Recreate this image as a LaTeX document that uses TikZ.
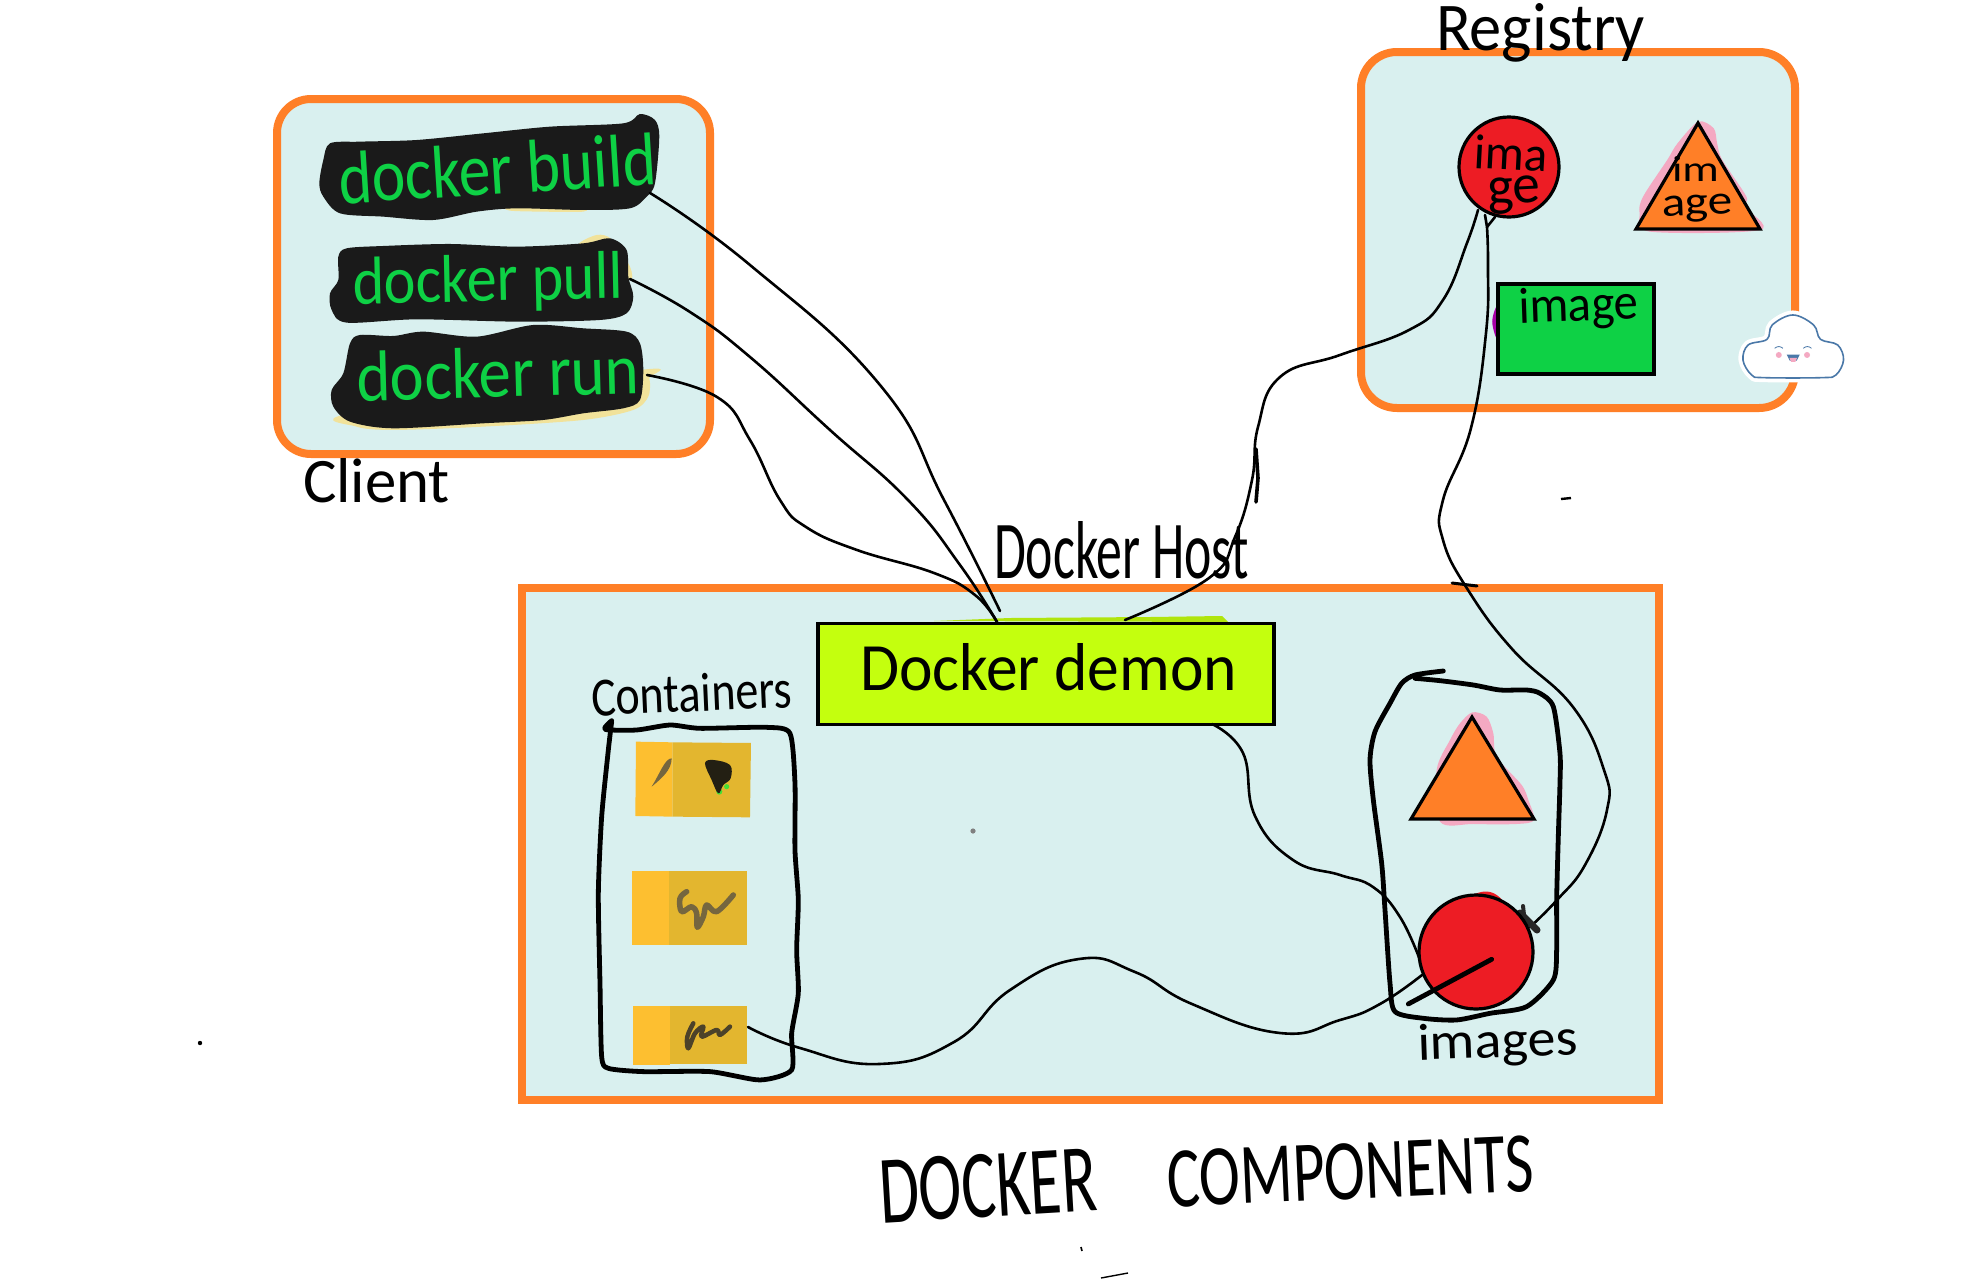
\documentclass[tikz,border=0pt]{standalone}
\usepackage{graphicx}
\usepackage{fontspec}
\setmainfont{Carlito}
\definecolor{orng}{HTML}{FF7F27}
\definecolor{pale}{HTML}{D9F0EF}
\definecolor{redd}{HTML}{ED1C24}
\definecolor{grn}{HTML}{0ED145}
\definecolor{lime}{HTML}{C4FF0E}
\definecolor{blob}{HTML}{1A1A1A}
\definecolor{pinkb}{HTML}{F4A9C2}
\definecolor{crm}{HTML}{F1E29A}
\definecolor{boxl}{HTML}{FDBF30}
\definecolor{boxr}{HTML}{E3B62F}
\definecolor{scrib}{HTML}{75663F}
\definecolor{cldb}{HTML}{4A78A8}
\newcommand{\hw}[3]{\resizebox{#1pt}{#2pt}{#3}}
\tikzset{
  panel/.style={draw=orng,fill=pale,line width=8pt,inner sep=0pt,outer sep=0pt},
  hand/.style={anchor=base west,inner sep=0pt,outer sep=0pt,text=black},
  handg/.style={hand,text=grn},
  wire/.style={draw=black,line width=2.6pt,line cap=round,line join=round},
  pen/.style={draw=black,line width=4.8pt,line cap=round,line join=round},
  shapeline/.style={draw=black,line width=3.2pt,line join=miter},
  za/.style={shift={(250,80)},x=0.3333pt,y=-0.3333pt},
  zb/.style={shift={(1340,0)},x=0.3444pt,y=-0.3333pt},
  zc/.style={shift={(560,650)},x=0.3333pt,y=-0.3333pt},
  zd/.style={shift={(1340,650)},x=0.3333pt,y=-0.3333pt},
}
\begin{document}
\begin{tikzpicture}[x=1pt,y=-1pt]
\useasboundingbox (0,0) rectangle (1968,1280);
\fill[white] (0,0) rectangle (1968,1280);
% panels
\node[panel,rounded corners=34pt,minimum width=433pt,minimum height=355pt] (client) at (493.5,276.5) {};
\node[panel,rounded corners=36pt,minimum width=434pt,minimum height=356pt] (registry) at (1578,230) {};
\node[panel,minimum width=1137pt,minimum height=512pt] (host) at (522,588) [anchor=north west] {};
% blobs behind client commands
\begin{scope}[za]
\fill[crm] plot[smooth cycle,tension=.5] coordinates {(770,380)(880,375)(1000,380)(1000,395)(880,395)(780,392)};
\fill[crm] plot[smooth cycle,tension=.5] coordinates {(985,495)(1040,465)(1085,478)(1140,560)(1140,600)(1060,520)};
\fill[crm] plot[smooth cycle,tension=.5] coordinates {(1170,870)(1198,895)(1195,950)(1150,990)(1000,1020)(700,1040)(430,1050)(320,1040)(300,1000)};
\fill[blob] plot[smooth cycle,tension=.5] coordinates {(240,190)(330,185)(500,180)(700,160)(900,140)(1120,130)(1170,102)(1215,120)(1228,170)(1215,310)(1190,350)(1140,385)(1000,390)(800,385)(680,395)(550,420)(400,410)(270,400)(220,350)(208,310)(220,240)};
\fill[blob] plot[smooth cycle,tension=.5] coordinates {(290,505)(400,498)(600,492)(800,500)(1000,490)(1080,475)(1130,510)(1135,590)(1150,650)(1130,700)(1050,720)(800,725)(500,718)(290,728)(245,690)(240,640)(265,600)(265,530)};
\fill[blob] plot[smooth cycle,tension=.5] coordinates {(330,765)(430,768)(520,755)(680,770)(850,735)(1000,745)(1130,755)(1170,790)(1180,870)(1170,960)(1120,985)(1000,1000)(880,1020)(700,1030)(430,1045)(300,1025)(250,980)(245,930)(280,880)(300,790)};
\end{scope}
% client texts
\node[handg,rotate=3.6] (tbuild) at (340,204) {\hw{318}{52}{docker build}};
\node[handg,rotate=1.2] (tpull) at (353,304) {\hw{270}{47}{docker pull}};
\node[handg,rotate=1.5] (trun) at (357,401) {\hw{283}{50}{docker run}};
\node[hand] (tclient) at (303,502) {\hw{147}{44}{Client}};
% registry contents
\begin{scope}[zb]
\fill[pinkb] plot[smooth cycle,tension=.5] coordinates {(1040,365)(1085,385)(1095,430)(1110,480)(1180,590)(1175,620)(1220,690)(900,695)(870,640)(880,590)(950,480)(980,430)};
\fill[violet!70!magenta] plot[smooth cycle,tension=.6] coordinates {(458,915)(442,965)(458,1020)(470,965)};
\end{scope}
\node[circle,draw=black,fill=redd,line width=3.2pt,minimum size=100pt,inner sep=0pt] (regcirc) at (1509,167) {};
\draw[shapeline,fill=orng] (1698,123) -- (1760,229) -- (1636,229) -- cycle;
\node[draw=black,fill=grn,line width=3.5pt,minimum width=156pt,minimum height=90pt,inner sep=0pt] (regrect) at (1576,329) {};
\node[hand,rotate=-3] (tima) at (1473,168) {\hw{74}{34}{ima}};
\node[hand,rotate=3] (tge) at (1488,205) {\hw{53}{27}{ge}};
\node[hand] (tim) at (1672,181) {\hw{47}{25}{im}};
\node[hand,rotate=2] (tage) at (1662,216) {\hw{71}{20}{age}};
\node[hand,rotate=2] (timage) at (1519,323) {\hw{120}{35}{image}};
% cloud
\begin{scope}[zb]
\path[draw=white,fill=white,line width=9pt,line join=round] plot[smooth cycle,tension=.6] coordinates {(1170,1080)(1185,1035)(1240,1018)(1255,975)(1315,945)(1375,975)(1395,1018)(1445,1035)(1462,1080)(1440,1125)(1400,1133)(1230,1133)(1195,1125)};
\path[draw=cldb,fill=white,line width=1.6pt,line join=round] plot[smooth cycle,tension=.6] coordinates {(1170,1080)(1185,1035)(1240,1018)(1255,975)(1315,945)(1375,975)(1395,1018)(1445,1035)(1462,1080)(1440,1125)(1400,1133)(1230,1133)(1195,1125)};
\draw[cldb,line width=.8pt] (1262,1045) .. controls (1270,1038) and (1278,1038) .. (1286,1045);
\draw[cldb,line width=.8pt] (1345,1045) .. controls (1353,1038) and (1361,1038) .. (1369,1045);
\fill[pinkb] (1274,1065) circle (3pt);
\fill[pinkb] (1356,1065) circle (3pt);
\fill[cldb] (1297,1064) -- (1335,1064) -- (1326,1082) -- (1306,1082) -- cycle;
\fill[pinkb] (1305,1074) -- (1327,1074) -- (1322,1086) -- (1310,1086) -- cycle;
\end{scope}
\node[hand] (tregistry) at (1436,50) {\hw{209}{47}{Registry}};
% host contents
\fill[lime!90!black] (934,621) -- (1010,618) -- (1150,617) -- (1222,616) -- (1228,622) -- cycle;
\node[draw=black,fill=lime,line width=3.5pt,minimum width=456pt,minimum height=101pt,inner sep=0pt] (demon) at (1046,674) {};
\node[hand] (tdemon) at (860,690) {\hw{377}{47}{Docker demon}};
\node[hand] (thost) at (994,578) {\hw{255}{57}{Docker Host}};
\node[hand,rotate=2.5] (tcont) at (592,716) {\hw{201}{38}{Containers}};
% containers
\begin{scope}[zc]
\fill[boxl] (228,275) -- (338,277) -- (338,500) -- (226,498) -- cycle;
\fill[boxr] (338,277) -- (573,279) -- (570,502) -- (338,500) -- cycle;
\fill[boxl] (217,663) rectangle (327,885);
\fill[boxr] (327,662) rectangle (560,885);
\fill[boxl] (219,1068) rectangle (329,1244);
\fill[boxr] (329,1067) rectangle (561,1241);
\fill[scrib] (335,325) .. controls (315,325) and (300,370) .. (275,410) .. controls (305,385) and (335,360) .. (335,325) -- cycle;
\fill[grn!70!lime] (478,425) circle (3pt);
\fill[grn!70!lime] (500,410) circle (2.6pt);
\fill[black!70!scrib] plot[smooth cycle,tension=.6] coordinates {(435,340)(460,330)(510,345)(512,385)(490,405)(475,430)(455,390)};
\draw[scrib,line width=5.5pt,line cap=round,line join=round] plot[smooth,tension=.6] coordinates {(380,725)(360,745)(365,785)(395,770)(410,790)(412,832)(430,800)(440,765)(470,785)(520,735)};
\draw[black!35!scrib,line width=4.5pt,line cap=round,line join=round] plot[smooth,tension=.6] coordinates {(400,1120)(382,1160)(385,1195)(405,1150)(430,1130)(425,1160)(470,1140)(480,1155)(510,1130)};
\draw[pen] plot[smooth,tension=.4] coordinates {(155,212)(135,238)(230,240)(330,225)(420,235)(620,232)(690,250)(705,400)(705,600)(715,750)(710,900)(715,1030)(695,1150)(695,1260)(600,1290)(450,1265)(250,1265)(145,1255)(125,1220)(120,1000)(115,730)(125,500)(145,300)(155,215)};
\end{scope}
% images group
\begin{scope}[zd]
\fill[pinkb] plot[smooth cycle,tension=.5] coordinates {(397,187)(440,200)(460,250)(470,320)(545,405)(565,450)(582,510)(530,522)(400,522)(300,515)(290,360)(330,270)(360,220)};
\fill[redd] plot[smooth cycle,tension=.6] coordinates {(375,748)(430,725)(470,735)(497,770)(430,770)};
\end{scope}
\draw[shapeline,fill=orng] (1472,717) -- (1534,819) -- (1411,819) -- cycle;
% connectors
\coordinate (bout) at (650,193);
\coordinate (pout) at (630,279);
\coordinate (rout) at (647,375);
\coordinate (din1) at (1000,611);
\coordinate (din2) at (997,622);
\coordinate (din3) at (1125,620);
\coordinate (dbot) at (1212,724);
\coordinate (rcl) at (1478,210);
\coordinate (rcb) at (1487,227);
\coordinate (cout) at (748,1027);
\coordinate (ires) at (1420,960);
\coordinate (ircv) at (1530,927);
\coordinate (iend) at (1422,975);
\draw[wire] plot[smooth,tension=.8] coordinates {(bout)(750,265)(880,385)(944,500)(din1)};
\draw[wire] plot[smooth,tension=.8] coordinates {(pout)(690,312)(750,357)(830,430)(908,500)(960,565)(din2)};
\draw[wire] plot[smooth,tension=.75] coordinates {(rout)(717,397)(750,440)(780,500)(806,527)(857,550)(934,573)(975,595)(din2)};
\draw[wire] plot[smooth,tension=.75] coordinates {(din3)(1209,578)(1235,537)(1252,480)(1258,427)(1280,377)(1340,355)(1409,330)(1443,300)(1467,243)(rcl)};
\draw[pen,line width=3.6pt] (1256,449) -- (1258,478) -- (1256,502);
\draw[wire] plot[smooth,tension=.75] coordinates {(rcb)(1488,267)(1486,333)(1471,428)(1443,500)(1443,540)(1468,590)(1513,650)(1573,707)(1604,770)(1607,810)(1585,865)(1557,900)(ircv)};
\draw[wire,line width=2.6pt] (1485,215) -- (rcb) -- (1495,217);
\draw[wire,line width=3pt] (1452,583) -- (1477,586);
\draw[draw=black!85,line width=7pt,line cap=round] (1520,913) -- (1537,930);
\draw[draw=black!85,line width=4pt,line cap=round] (1523,906) -- (1524,915);
\draw[wire] plot[smooth,tension=.75] coordinates {(dbot)(1243,753)(1255,816)(1293,860)(1340,875)(1373,887)(1400,917)(ires)};
\node[circle,draw=black,fill=redd,line width=3.2pt,minimum size=114pt,inner sep=0pt] (imgcirc) at (1476,952) {};
\draw[wire] plot[smooth,tension=.8] coordinates {(cout)(800,1048)(879,1064)(954,1042)(1010,990)(1079,959)(1135,972)(1192,1004)(1280,1033)(1340,1020)(1380,1004)(iend)};
\begin{scope}[zd]
\draw[pen,line width=4.8pt] plot[smooth,tension=.45] coordinates {(310,63)(225,75)(185,100)(150,160)(105,245)(90,330)(100,450)(125,640)(135,780)(150,1000)(165,1085)(250,1105)(350,1110)(450,1090)(560,1070)(640,990)(650,900)(650,750)(655,560)(660,400)(660,310)(640,170)(600,130)(560,120)(480,120)(400,105)(300,92)(225,85)};
\draw[pen] (455,928) -- (205,1062);
\end{scope}
\node[hand,rotate=2] (timages) at (1418,1060) {\hw{160}{36}{images}};
% title
\node[hand,rotate=3.4] (tdk) at (881,1223) {\hw{218}{63}{DOCKER}};
\node[hand,rotate=2.5] (tcmp) at (1168,1207) {\hw{367}{56}{COMPONENTS}};
% specks
\fill[black] (200,1043) circle (2.2pt);
\fill[black!50] (973,831) circle (2.6pt);
\draw[black,line width=2.4pt] (1561,499) -- (1571,498);
\draw[black,line width=1.6pt] (1081,1247) -- (1082,1251);
\draw[black,line width=1.4pt] (1101,1278) -- (1128,1273);
\end{tikzpicture}
\end{document}
